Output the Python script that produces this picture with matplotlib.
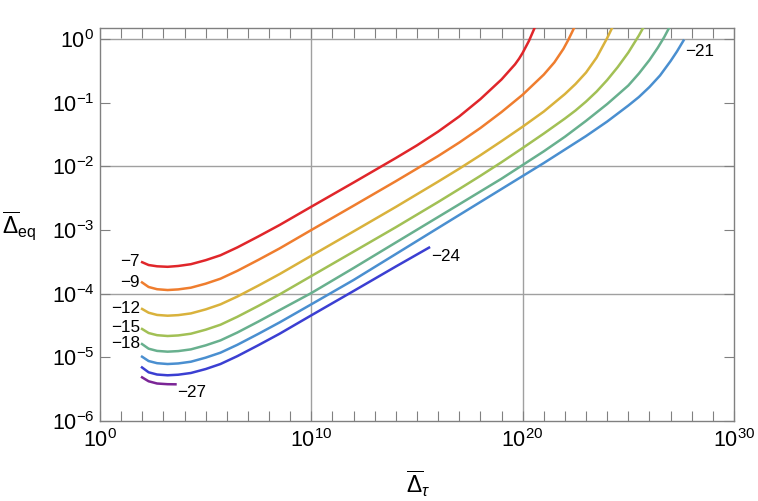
import numpy as np
import matplotlib
matplotlib.use("Agg")
import matplotlib.pyplot as plt
from matplotlib.ticker import FixedLocator, LogFormatterSciNotation, NullFormatter

plt.rcParams['font.family'] = ['Liberation Sans', 'DejaVu Sans']
plt.rcParams['mathtext.fontset'] = 'custom'
plt.rcParams['mathtext.rm'] = 'Liberation Sans'
plt.rcParams['mathtext.it'] = 'Liberation Sans:italic'
plt.rcParams['mathtext.bf'] = 'Liberation Sans:bold'
plt.rcParams['mathtext.sf'] = 'Liberation Sans'

# ---- data (log10 values) ----
labels = ["\u22127", "\u22129", "\u221212", "\u221215", "\u221218", "\u221221", "\u221224", "\u221227"]

lx_m7 = [1.94, 2.3, 2.7, 3.2, 3.7, 4.3, 5.0, 5.7, 6.5, 7.5, 8.5, 10, 12, 14, 15, 16, 17, 18, 19,
         19.64, 19.83, 20.0, 20.30, 20.55, 20.70]
ly_m7 = [-3.498, -3.550, -3.570, -3.578, -3.565, -3.537, -3.474, -3.397, -3.273, -3.100, -2.921,
         -2.634, -2.254, -1.869, -1.670, -1.454, -1.216, -0.944, -0.635, -0.397, -0.309, -0.217,
         -0.028, 0.163, 0.275]

lx_m9 = [1.94, 2.3, 2.7, 3.2, 3.7, 4.3, 5.0, 5.7, 6.5, 7.5, 8.5, 10, 12, 14, 16, 17, 18, 19, 20,
         21, 21.5, 21.93, 22.16, 22.40, 22.60]
ly_m9 = [-3.812, -3.895, -3.930, -3.943, -3.933, -3.906, -3.843, -3.765, -3.641, -3.468, -3.289,
         -3.000, -2.618, -2.233, -1.838, -1.626, -1.398, -1.147, -0.875, -0.559, -0.367, -0.154,
         -0.013, 0.151, 0.294]

lx_m12 = [1.94, 2.3, 2.7, 3.2, 3.7, 4.3, 5.0, 5.7, 6.5, 7.5, 8.5, 10, 12, 14, 16, 17, 18, 19, 20,
          21, 22, 22.5, 23, 23.5, 24, 24.23, 24.39]
ly_m12 = [-4.230, -4.299, -4.334, -4.346, -4.337, -4.310, -4.247, -4.168, -4.045, -3.872, -3.692,
          -3.404, -3.022, -2.637, -2.240, -2.037, -1.825, -1.604, -1.377, -1.139, -0.864, -0.707,
          -0.526, -0.291, 0.016, 0.173, 0.291]

lx_m15 = [1.94, 2.3, 2.7, 3.2, 3.7, 4.3, 5.0, 5.7, 6.5, 7.5, 8.5, 10, 12, 14, 16, 17, 18, 19, 20,
          21, 22, 22.5, 23, 23.5, 24, 24.5, 25, 25.5, 25.79, 25.93]
ly_m15 = [-4.544, -4.618, -4.652, -4.665, -4.656, -4.629, -4.566, -4.488, -4.363, -4.191, -4.011,
          -3.723, -3.340, -2.956, -2.560, -2.356, -2.149, -1.935, -1.712, -1.485, -1.249, -1.123,
          -0.982, -0.825, -0.644, -0.440, -0.212, 0.055, 0.228, 0.322]

lx_m18 = [1.94, 2.3, 2.7, 3.2, 3.7, 4.3, 5.0, 5.7, 6.5, 7.5, 8.5, 10, 12, 14, 16, 17, 18, 19, 20,
          21, 22, 23, 24, 24.5, 25, 25.5, 26, 26.4, 26.7, 26.95, 27.11]
ly_m18 = [-4.780, -4.864, -4.899, -4.911, -4.902, -4.875, -4.812, -4.734, -4.610, -4.437, -4.258,
          -3.990, -3.597, -3.196, -2.796, -2.596, -2.395, -2.194, -1.979, -1.764, -1.535, -1.285,
          -1.021, -0.876, -0.730, -0.542, -0.330, -0.134, 0.031, 0.188, 0.306]

lx_m21 = [1.94, 2.3, 2.7, 3.2, 3.7, 4.3, 5.0, 5.7, 6.5, 7.5, 8.5, 10, 12, 14, 16, 17, 18, 19, 20,
          21, 22, 23, 24, 25, 25.5, 26, 26.5, 27, 27.3, 27.64]
ly_m21 = [-4.979, -5.058, -5.092, -5.105, -5.096, -5.069, -5.005, -4.927, -4.803, -4.630, -4.451,
          -4.167, -3.785, -3.377, -2.968, -2.764, -2.560, -2.356, -2.152, -1.948, -1.736, -1.524,
          -1.296, -1.045, -0.911, -0.754, -0.573, -0.346, -0.196, -0.008]

lx_m24 = [1.94, 2.3, 2.7, 3.2, 3.7, 4.3, 5.0, 5.7, 6.5, 7.5, 8.5, 10, 12, 14, 15.62]
ly_m24 = [-5.147, -5.235, -5.270, -5.282, -5.273, -5.246, -5.184, -5.105, -4.981, -4.808, -4.629,
          -4.340, -3.958, -3.573, -3.267]

lx_m27 = [1.94, 2.3, 2.7, 3.2, 3.63]
ly_m27 = [-5.304, -5.376, -5.411, -5.422, -5.424]

series_lx = [lx_m7, lx_m9, lx_m12, lx_m15, lx_m18, lx_m21, lx_m24, lx_m27]
series_ly = [ly_m7, ly_m9, ly_m12, ly_m15, ly_m18, ly_m21, ly_m24, ly_m27]

# ---- styles ----
colors = ["#e0262a", "#ef7d2e", "#d9b23c", "#a2c055", "#68b08e", "#4a8fd0", "#3b3fd2", "#7b2596"]
label_pos = [("start", "right", (-1, 0)), ("start", "right", (-1, -1)),
             ("start", "right", (-1, 0)), ("start", "right", (-1, 1)),
             ("start", "right", (-1, 0)), ("end", "left", (1, -11.5)),
             ("end", "left", (1, -9)), ("end", "left", (0, -8.5))]

W, H = 758, 501
fig = plt.figure(figsize=(W / 100, H / 100), dpi=100)
ax = fig.add_axes([100 / W, 1 - 421 / H, 634 / W, 393 / H])

ax.set_xscale('log')
ax.set_yscale('log')
ax.set_xlim(1, 1e30)
ax.set_ylim(1e-6, 10 ** 0.173)

grid_c = '#a0a0a0'
for gx in [1e10, 1e20]:
    ax.axvline(gx, color=grid_c, lw=1.0, zorder=1)
for gy in [1e-4, 1e-2, 1e0]:
    ax.axhline(gy, color=grid_c, lw=1.0, zorder=1)

for lx, ly, c, lab, (anc, ha, off) in zip(series_lx, series_ly, colors, labels, label_pos):
    x = 10.0 ** np.array(lx)
    y = 10.0 ** np.array(ly)
    ax.plot(x, y, color=c, lw=1.8, zorder=3, solid_capstyle='butt', solid_joinstyle='round')
    i = 0 if anc == "start" else -1
    ax.annotate(lab, (x[i], y[i]), xytext=off, textcoords='offset pixels',
                ha=ha, va='center', fontsize=12.3, color='black')

spine_c = '#808080'
for s in ax.spines.values():
    s.set_color(spine_c)
    s.set_linewidth(1.0)

ax.xaxis.set_major_locator(FixedLocator([1e0, 1e10, 1e20, 1e30]))
ax.xaxis.set_minor_locator(FixedLocator([10.0 ** k for k in range(1, 30) if k % 10 != 0]))
ax.xaxis.set_major_formatter(LogFormatterSciNotation())
ax.xaxis.set_minor_formatter(NullFormatter())
ax.yaxis.set_major_locator(FixedLocator([10.0 ** k for k in range(-6, 1)]))
ax.yaxis.set_minor_locator(FixedLocator([]))
ax.yaxis.set_major_formatter(LogFormatterSciNotation())

ax.tick_params(which='both', direction='in', top=True, right=True, length=7,
               width=0.8, color=spine_c, labelsize=15.5)
ax.tick_params(axis='x', which='major', pad=6)
ax.tick_params(axis='y', which='major', pad=4)

fig.text(2 / W, 1 - 226 / H, r'$\overline{\Delta}_{\mathrm{eq}}$', ha='left', va='center', fontsize=16.5)
fig.text(418 / W, 1 - 484 / H, r'$\overline{\Delta}_{\tau}$', ha='center', va='center', fontsize=16.5)

fig.savefig('out.png', dpi=100)
